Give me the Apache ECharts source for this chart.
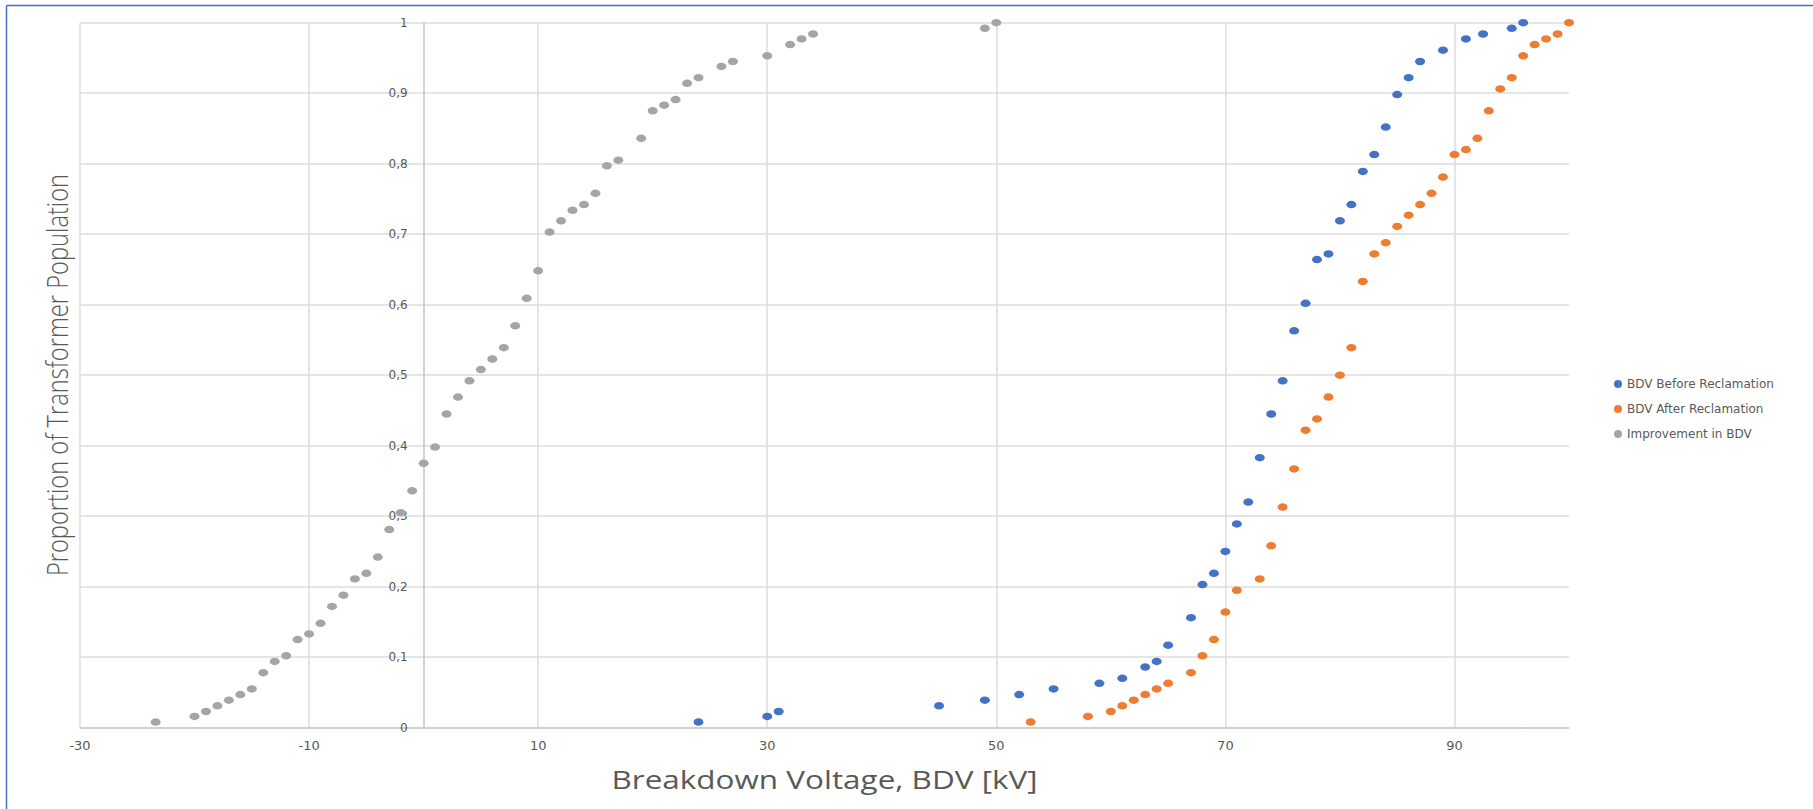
<!DOCTYPE html>
<html>
<head>
<meta charset="utf-8">
<script src="https://cdn.jsdelivr.net/npm/echarts@6/dist/echarts.min.js"></script>
<style>
html,body{margin:0;padding:0;background:#fff;}
#chart{width:1813px;height:809px;}
</style>
</head>
<body>
<div id="chart"></div>
<script>
// ---- Data ----
const seriesNames = ['BDV Before Reclamation', 'BDV After Reclamation', 'Improvement in BDV'];

const beforeX = [24, 30, 31, 45, 49, 52, 55, 59, 61, 63, 64, 65, 67, 68, 69, 70, 71, 72, 73, 74, 75, 76, 77, 78, 79, 80, 81, 82, 83, 84, 85, 86, 87, 89, 91, 92.5, 95, 96];
const beforeY = [0.008, 0.016, 0.023, 0.031, 0.039, 0.047, 0.055, 0.063, 0.070, 0.086, 0.094, 0.117, 0.156, 0.203, 0.219, 0.250, 0.289, 0.320, 0.383, 0.445, 0.492, 0.563, 0.602, 0.664, 0.672, 0.719, 0.742, 0.789, 0.813, 0.852, 0.898, 0.922, 0.945, 0.961, 0.977, 0.984, 0.992, 1.0];

const afterX = [53, 58, 60, 61, 62, 63, 64, 65, 67, 68, 69, 70, 71, 73, 74, 75, 76, 77, 78, 79, 80, 81, 82, 83, 84, 85, 86, 87, 88, 89, 90, 91, 92, 93, 94, 95, 96, 97, 98, 99, 100];
const afterY = [0.008, 0.016, 0.023, 0.031, 0.039, 0.047, 0.055, 0.063, 0.078, 0.102, 0.125, 0.164, 0.195, 0.211, 0.258, 0.313, 0.367, 0.422, 0.438, 0.469, 0.500, 0.539, 0.633, 0.672, 0.688, 0.711, 0.727, 0.742, 0.758, 0.781, 0.813, 0.820, 0.836, 0.875, 0.906, 0.922, 0.953, 0.969, 0.977, 0.984, 1.0];

const improveX = [-23.4, -20, -19, -18, -17, -16, -15, -14, -13, -12, -11, -10, -9, -8, -7, -6, -5, -4, -3, -2, -1, 0, 1, 2, 3, 4, 5, 6, 7, 8, 9, 10, 11, 12, 13, 14, 15, 16, 17, 19, 20, 21, 22, 23, 24, 26, 27, 30, 32, 33, 34, 49, 50];
const improveY = [0.008, 0.016, 0.023, 0.031, 0.039, 0.047, 0.055, 0.078, 0.094, 0.102, 0.125, 0.133, 0.148, 0.172, 0.188, 0.211, 0.219, 0.242, 0.281, 0.305, 0.336, 0.375, 0.398, 0.445, 0.469, 0.492, 0.508, 0.523, 0.539, 0.570, 0.609, 0.648, 0.703, 0.719, 0.734, 0.742, 0.758, 0.797, 0.805, 0.836, 0.875, 0.883, 0.891, 0.914, 0.922, 0.938, 0.945, 0.953, 0.969, 0.977, 0.984, 0.992, 1.0];

const xAxisMin = -30, xAxisMax = 100, xAxisStep = 20;
const yAxisMin = 0, yAxisMax = 1, yAxisStep = 0.1;
const xTitle = 'Breakdown Voltage, BDV [kV]';
const yTitle = 'Proportion of Transformer Population';
const colors = ['#4472C4', '#ED7D31', '#A5A5A5'];

// ---- Build ----
function pairs(xs, ys) { return xs.map((x, i) => [x, ys[i]]); }
const ellipse = 'path://M0,5A5,5 0 1,0 10,5A5,5 0 1,0 0,5Z';
const textColor = '#595959';
const gridLeft = 80, gridRight = 244, gridTop = 22.7, gridBottom = 81.3;
const W = 1813, H = 809;
const plotW = W - gridLeft - gridRight;
// y axis sits where x = 0 (as in the reference)
const yAxisShift = (0 - xAxisMin) / (xAxisMax - xAxisMin) * plotW;

const chart = echarts.init(document.getElementById('chart'), null, {renderer: 'svg'});
const option = {
  animation: false,
  backgroundColor: '#ffffff',
  color: colors,
  grid: {left: gridLeft, right: gridRight, top: gridTop, bottom: gridBottom, containLabel: false},
  legend: {
    orient: 'vertical',
    left: 1609,
    top: 373,
    itemWidth: 10,
    itemHeight: 8,
    itemGap: 13,
    icon: ellipse,
    textStyle: {color: textColor, fontSize: 12, fontFamily: 'DejaVu Sans', padding: [0, 0, 0, -1]},
    data: seriesNames
  },
  xAxis: {
    type: 'value',
    min: xAxisMin, max: xAxisMax, interval: xAxisStep,
    axisLine: {show: true, onZero: false, lineStyle: {color: '#c8c8c8', width: 1.5}},
    axisTick: {show: false},
    axisLabel: {color: textColor, fontSize: 13, fontFamily: 'DejaVu Sans', margin: 11, showMaxLabel: false},
    splitLine: {show: true, showMaxLine: false, lineStyle: {color: '#dcdcdc', width: 1.5}}
  },
  yAxis: {
    type: 'value',
    min: yAxisMin, max: yAxisMax, interval: yAxisStep,
    offset: -yAxisShift,
    axisLine: {show: true, onZero: false, lineStyle: {color: '#c4c4c4', width: 1.5}},
    axisTick: {show: false},
    axisLabel: {
      color: textColor, fontSize: 12, fontFamily: 'DejaVu Sans', margin: 16,
      formatter: v => String(Math.round(v * 10) / 10).replace('.', ',')
    },
    splitLine: {show: true, lineStyle: {color: '#dcdcdc', width: 1.5}}
  },
  graphic: [
    {type: 'line', shape: {x1: 6.5, y1: 5.5, x2: W, y2: 5.5}, style: {stroke: '#4472C4', lineWidth: 1.5}, silent: true},
    {type: 'line', shape: {x1: 6.5, y1: 5.5, x2: 6.5, y2: H}, style: {stroke: '#4472C4', lineWidth: 1.5}, silent: true},
    {
      type: 'text', x: 56, y: 375, rotation: Math.PI / 2, scaleX: 0.79,
      style: {text: yTitle, fill: textColor, fontSize: 30, fontWeight: 300, fontFamily: 'Open Sans', align: 'center', verticalAlign: 'middle'}
    },
    {
      type: 'text', x: gridLeft + plotW / 2, y: 779, scaleX: 1.21,
      style: {text: xTitle, fill: textColor, fontSize: 26, fontFamily: 'Open Sans', align: 'center', verticalAlign: 'middle'}
    }
  ],
  series: [
    {name: seriesNames[0], type: 'scatter', symbol: ellipse, symbolSize: [10, 7.5], data: pairs(beforeX, beforeY), itemStyle: {color: colors[0], opacity: 1}},
    {name: seriesNames[1], type: 'scatter', symbol: ellipse, symbolSize: [10, 7.5], data: pairs(afterX, afterY), itemStyle: {color: colors[1], opacity: 1}},
    {name: seriesNames[2], type: 'scatter', symbol: ellipse, symbolSize: [10, 7.5], data: pairs(improveX, improveY), itemStyle: {color: colors[2], opacity: 1}}
  ]
};
chart.setOption(option);
</script>
</body>
</html>
